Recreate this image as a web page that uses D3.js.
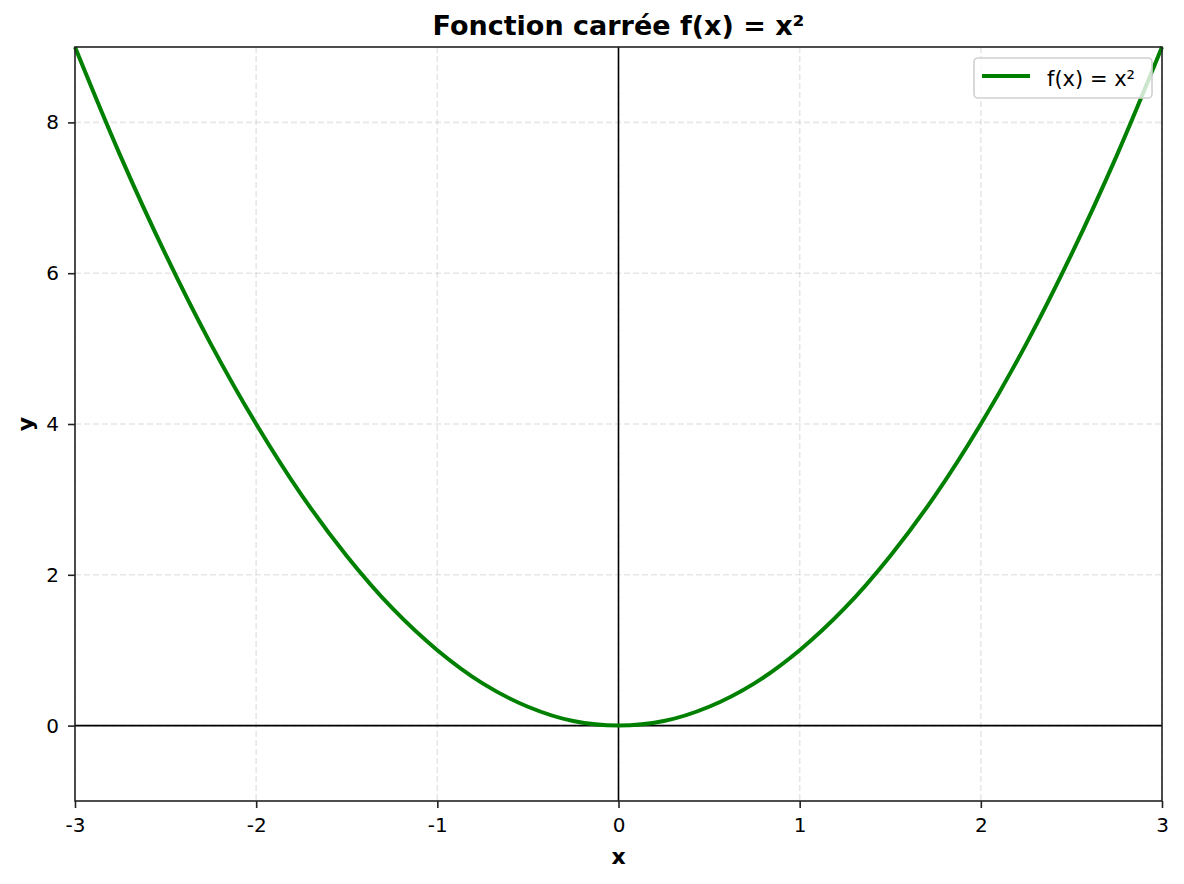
<!DOCTYPE html>
<html>
<head>
<meta charset="utf-8">
<script src="https://cdn.jsdelivr.net/npm/d3@7.9.0/dist/d3.min.js"></script>
<style>
  body { margin: 0; background: #fff; }
  svg { display: block; font-family: "DejaVu Sans", sans-serif; }
  svg text { font-family: "DejaVu Sans", sans-serif; }
</style>
</head>
<body>
<svg id="chart" width="1184" height="884"></svg>
<script>
// points
const xValues = [-3, -2.75, -2.5, -2.25, -2, -1.75, -1.5, -1.25, -1, -0.75, -0.5, -0.25, 0,
                 0.25, 0.5, 0.75, 1, 1.25, 1.5, 1.75, 2, 2.25, 2.5, 2.75, 3];
const yValues = [9, 7.56, 6.25, 5.06, 4, 3.06, 2.25, 1.56, 1, 0.56, 0.25, 0.06, 0,
                 0.06, 0.25, 0.56, 1, 1.56, 2.25, 3.06, 4, 5.06, 6.25, 7.56, 9];
const xTicks = [-3, -2, -1, 0, 1, 2, 3];
const yTicks = [0, 2, 4, 6, 8];
const seriesLabel = 'f(x) = x²';
const chartTitle = 'Fonction carrée f(x) = x²';

// plot area (window.top is taken, hence the names)
const plotLeft = 75, plotRight = 1162, plotTop = 47, plotBottom = 801;
const svg = d3.select('#chart');

const x = d3.scaleLinear().domain([-3, 3]).range([plotLeft, plotRight]);
const y = d3.scaleLinear().domain([-1, 9]).range([plotBottom, plotTop]);

const fmt = (d) => String(d); // plain hyphen like the original

// grid
const grid = svg.append('g');
xTicks.forEach((t) => {
    grid.append('line')
        .attr('x1', x(t)).attr('x2', x(t)).attr('y1', plotTop).attr('y2', plotBottom)
        .attr('stroke', '#b0b0b0').attr('stroke-opacity', 0.3)
        .attr('stroke-width', 1.6).attr('stroke-dasharray', '6,3');
});
yTicks.forEach((t) => {
    grid.append('line')
        .attr('x1', plotLeft).attr('x2', plotRight).attr('y1', y(t)).attr('y2', y(t))
        .attr('stroke', '#b0b0b0').attr('stroke-opacity', 0.3)
        .attr('stroke-width', 1.6).attr('stroke-dasharray', '6,3');
});

// zero lines
svg.append('line')
    .attr('x1', plotLeft).attr('x2', plotRight).attr('y1', y(0)).attr('y2', y(0))
    .attr('stroke', '#000').attr('stroke-width', 1.6);
svg.append('line')
    .attr('x1', x(0)).attr('x2', x(0)).attr('y1', plotTop).attr('y2', plotBottom)
    .attr('stroke', '#000').attr('stroke-width', 1.6);

// curve
const points = xValues.map((v, i) => [v, yValues[i]]);
svg.append('path')
    .datum(points)
    .attr('fill', 'none')
    .attr('stroke', '#008000')
    .attr('stroke-width', 4)
    .attr('d', d3.line().x((d) => x(d[0])).y((d) => y(d[1])).curve(d3.curveCatmullRom));

// axes
const xAxis = svg.append('g')
    .attr('transform', `translate(0,${plotBottom})`)
    .call(d3.axisBottom(x).tickValues(xTicks).tickFormat(fmt).tickSize(7).tickPadding(10));
const yAxis = svg.append('g')
    .attr('transform', `translate(${plotLeft},0)`)
    .call(d3.axisLeft(y).tickValues(yTicks).tickFormat(fmt).tickSize(7).tickPadding(9));
[xAxis, yAxis].forEach((g) => {
    g.attr('font-family', null).attr('font-size', null);
    g.select('.domain').remove();
    g.selectAll('.tick line').attr('stroke', '#222').attr('stroke-width', 1.6);
    g.selectAll('.tick text').attr('fill', '#000').style('font-size', '20px');
});

// frame
svg.append('rect')
    .attr('x', plotLeft).attr('y', plotTop)
    .attr('width', plotRight - plotLeft).attr('height', plotBottom - plotTop)
    .attr('fill', 'none').attr('stroke', '#222').attr('stroke-width', 1.6);

// title and labels
svg.append('text')
    .attr('x', (plotLeft + plotRight) / 2).attr('y', 35)
    .attr('text-anchor', 'middle')
    .style('font-size', '27px').style('font-weight', 'bold')
    .text(chartTitle);
svg.append('text')
    .attr('x', (plotLeft + plotRight) / 2).attr('y', 864)
    .attr('text-anchor', 'middle')
    .style('font-size', '22px').style('font-weight', 'bold')
    .text('x');
svg.append('text')
    .attr('transform', `translate(33,${(plotTop + plotBottom) / 2}) rotate(-90)`)
    .attr('text-anchor', 'middle')
    .style('font-size', '22px').style('font-weight', 'bold')
    .text('y');

// legend
const legend = svg.append('g');
legend.append('rect')
    .attr('x', 974).attr('y', 58).attr('width', 178).attr('height', 40)
    .attr('rx', 4)
    .attr('fill', '#fff').attr('fill-opacity', 0.8)
    .attr('stroke', '#d0d0d0').attr('stroke-width', 1.6);
legend.append('line')
    .attr('x1', 982).attr('x2', 1030).attr('y1', 76).attr('y2', 76)
    .attr('stroke', '#008000').attr('stroke-width', 4);
legend.append('text')
    .attr('x', 1047).attr('y', 86)
    .style('font-size', '21px')
    .text(seriesLabel);
</script>
</body>
</html>
